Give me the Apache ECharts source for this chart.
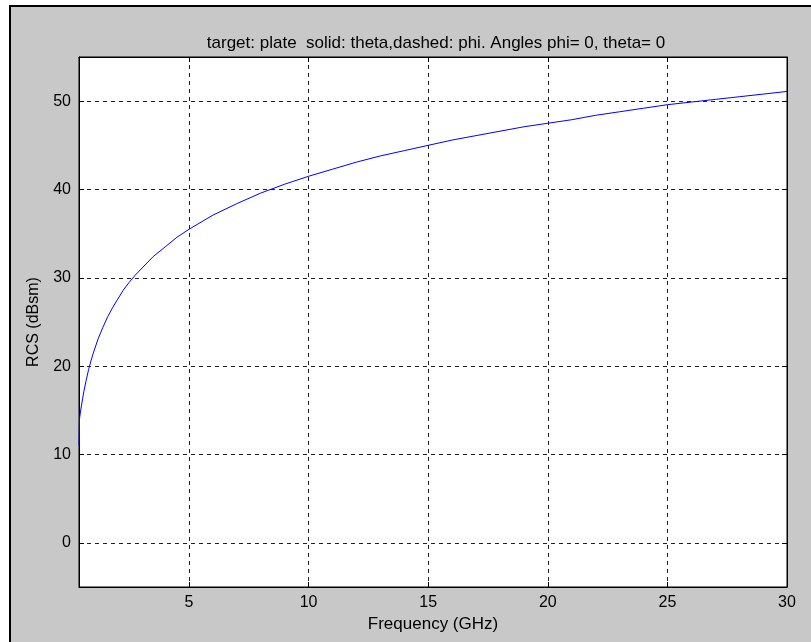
<!DOCTYPE html>
<html>
<head>
<meta charset="utf-8">
<script src="https://cdn.jsdelivr.net/npm/echarts@6/dist/echarts.min.js"></script>
<style>
html,body{margin:0;padding:0;background:#fff;}
#chart{width:811px;height:642px;}
</style>
</head>
<body>
<div id="chart"></div>
<script>
// Frequency (GHz) and RCS theta (dBsm)
const freqGHz = [0.40, 0.42, 0.45, 0.5, 0.55, 0.6, 0.7, 0.8, 0.9, 1.0, 1.1, 1.2, 1.4, 1.6, 1.8, 2.0, 2.25, 2.5, 2.75, 3.0, 3.5, 4.0, 4.5, 5, 5.5, 6, 7, 8, 9, 10, 11, 12, 13, 14, 15, 16, 17, 18, 19, 20, 21, 22, 23, 24, 25, 26, 27, 28, 29, 30];
const rcsTheta = [11.0, 14.0, 14.6, 15.5, 16.3, 17.1, 18.4, 19.6, 20.6, 21.5, 22.3, 23.1, 24.4, 25.6, 26.6, 27.5, 28.6, 29.5, 30.3, 31.0, 32.4, 33.5, 34.6, 35.5, 36.3, 37.1, 38.4, 39.6, 40.6, 41.5, 42.3, 43.1, 43.8, 44.4, 45.0, 45.6, 46.1, 46.6, 47.1, 47.5, 47.9, 48.4, 48.8, 49.2, 49.6, 49.9, 50.2, 50.5, 50.8, 51.1];
const xRange = [0.4, 30];
const yRange = [-5, 55];
const titleText = 'target: plate  solid: theta,dashed: phi. Angles phi= 0, theta= 0';
const xName = 'Frequency (GHz)';
const yName = 'RCS (dBsm)';

const chart = echarts.init(document.getElementById('chart'), null, {renderer: 'canvas'});
const font = 'Liberation Sans, Arial, sans-serif';
const gridLine = {show: true, lineStyle: {color: '#222', width: 1, type: [4, 4]}};
const tickIn = {show: true, inside: true, length: 5, lineStyle: {color: '#000'}};
chart.setOption({
  animation: false,
  backgroundColor: '#ffffff',
  graphic: [
    {type: 'rect', z: -10, shape: {x: 10, y: 6, width: 900, height: 700},
     style: {fill: '#c8c8c8', stroke: '#000', lineWidth: 2}, silent: true}
  ],
  title: {
    text: titleText, left: 431, top: 30, textAlign: 'center',
    textStyle: {fontFamily: font, fontSize: 17, fontWeight: 'normal', color: '#000'}
  },
  grid: {left: 79, top: 57, right: 24, bottom: 55, show: true, backgroundColor: '#fff', borderColor: '#000', borderWidth: 1},
  xAxis: [{
    type: 'value', min: xRange[0], max: xRange[1], splitNumber: 6,
    name: xName, nameLocation: 'middle', nameGap: 26,
    nameTextStyle: {fontFamily: font, fontSize: 17, color: '#000'},
    axisLine: {show: true, onZero: false, lineStyle: {color: '#000'}},
    axisTick: tickIn,
    axisLabel: {fontFamily: font, fontSize: 16, color: '#000', margin: 8, showMinLabel: false},
    splitLine: gridLine
  }, {
    type: 'value', position: 'top', min: xRange[0], max: xRange[1], splitNumber: 6,
    axisLine: {show: true, onZero: false, lineStyle: {color: '#000'}},
    axisTick: tickIn, axisLabel: {show: false}, splitLine: {show: false}
  }],
  yAxis: [{
    type: 'value', min: yRange[0], max: yRange[1], splitNumber: 6,
    name: yName, nameLocation: 'middle', nameGap: 37,
    nameTextStyle: {fontFamily: font, fontSize: 16, color: '#000'},
    axisLine: {show: true, onZero: false, lineStyle: {color: '#000'}},
    axisTick: tickIn,
    axisLabel: {fontFamily: font, fontSize: 16, color: '#000', margin: 8, showMinLabel: false, showMaxLabel: false},
    splitLine: gridLine
  }, {
    type: 'value', position: 'right', min: yRange[0], max: yRange[1], splitNumber: 6,
    axisLine: {show: true, onZero: false, lineStyle: {color: '#000'}},
    axisTick: tickIn, axisLabel: {show: false}, splitLine: {show: false}
  }],
  series: [{
    type: 'line', xAxisIndex: 0, yAxisIndex: 0,
    data: freqGHz.map((f, i) => [f, rcsTheta[i]]),
    showSymbol: false, smooth: false,
    lineStyle: {color: '#0000ff', width: 1}, clip: true
  }]
});
</script>
</body>
</html>
